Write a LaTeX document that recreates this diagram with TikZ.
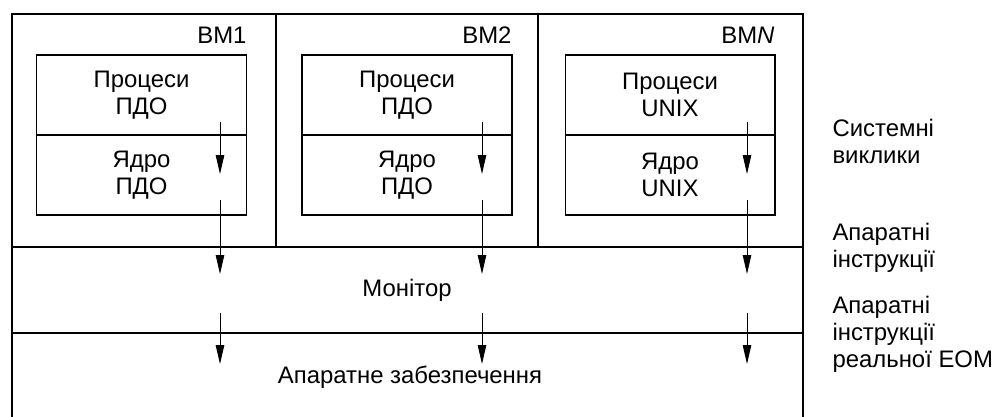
\documentclass[tikz,border=0pt]{standalone}
\usepackage{fontspec}
\setmainfont{Liberation Sans}
\usetikzlibrary{arrows.meta,positioning,calc}

\tikzset{
  vmbox/.style={draw,line width=.6pt,minimum width=4.2cm,minimum height=1.6cm,inner sep=0pt,outer sep=0pt,align=center},
  vmname/.style={anchor=east,inner sep=0pt},
  sidenote/.style={anchor=west,align=left,inner sep=0pt},
  call/.style={line width=.5pt,-{Triangle[length=3.8mm,width=1.7mm]}},
}

\begin{document}
\begin{tikzpicture}[x=.02cm,y=-.02cm,font=\fontsize{13.6}{15.4}\selectfont,line width=.6pt]
  \useasboundingbox (0,0) rectangle (1000,416);

  % frame, columns and layers
  \draw (12,420) -- (12,14) -- (803,14) -- (803,420);
  \draw (276,14) -- (276,247);
  \draw (538,14) -- (538,247);
  \draw (12,247) -- (803,247);
  \draw (12,333) -- (803,333);

  \node[vmname] (vm1) at (247,35) {ВМ1};
  \node[vmname] (vm2) at (512,35) {ВМ2};
  \node[vmname] (vmn) at (775,35) {ВМ\textit{N}};

  \node[vmbox] (proc1) at (141.5,95) {Процеси\\ПДО};
  \node[vmbox,below=0pt of proc1] (core1) {Ядро\\ПДО};
  \node[vmbox] (proc2) at (407,95) {Процеси\\ПДО};
  \node[vmbox,below=0pt of proc2] (core2) {Ядро\\ПДО};
  \node[vmbox] (procn) at (670,95) {Процеси\\UNIX};
  \node[vmbox,below=0pt of procn] (coren) {Ядро\\UNIX};

  \node (mon) at (407,290) {Монітор};
  \node (hw) at (410,377) {Апаратне забезпечення};

  \node[sidenote] (sys) at (832,141) {Системні\\виклики};
  \node[sidenote] (ins) at (832,248) {Апаратні\\інструкції};
  \node[sidenote] (real) at (832,334) {Апаратні\\інструкції\\реальної ЕОМ};

  % calls going down
  \coordinate (a1) at (220,122); \coordinate (b1) at (220,174);
  \coordinate (c1) at (220,200); \coordinate (d1) at (220,274);
  \coordinate (e1) at (220,313); \coordinate (f1) at (220,364);
  \draw[call] (a1) -- (b1);
  \draw[call] (c1) -- (d1);
  \draw[call] (e1) -- (f1);

  \coordinate (a2) at (482,122); \coordinate (b2) at (482,174);
  \coordinate (c2) at (482,200); \coordinate (d2) at (482,274);
  \coordinate (e2) at (482,313); \coordinate (f2) at (482,364);
  \draw[call] (a2) -- (b2);
  \draw[call] (c2) -- (d2);
  \draw[call] (e2) -- (f2);

  \coordinate (an) at (747,122); \coordinate (bn) at (747,174);
  \coordinate (cn) at (747,200); \coordinate (dn) at (747,274);
  \coordinate (en) at (747,313); \coordinate (fn) at (747,364);
  \draw[call] (an) -- (bn);
  \draw[call] (cn) -- (dn);
  \draw[call] (en) -- (fn);
\end{tikzpicture}
\end{document}
